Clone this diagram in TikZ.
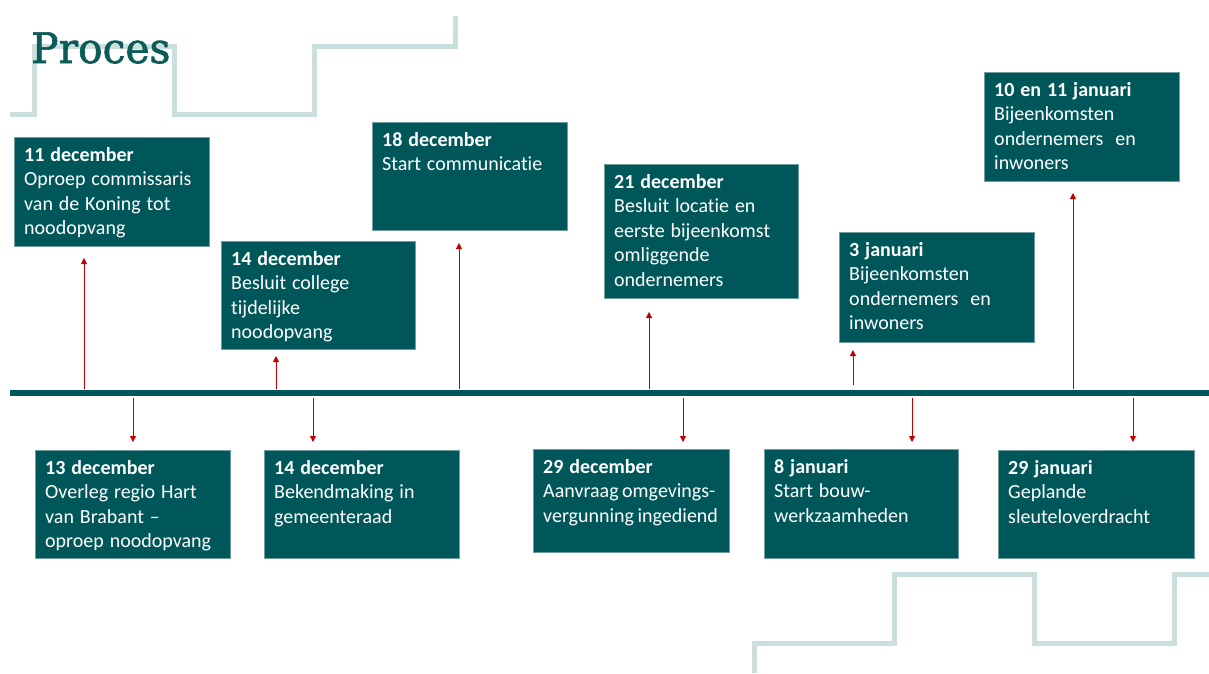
\documentclass[tikz,border=0pt]{standalone}
\usepackage{fontspec}
\setmainfont[Ligatures={NoCommon}, WordSpace=1.3]{Carlito}
\newfontfamily\titlefont[FakeStretch=0.97, FakeBold=1.6]{DejaVu Serif}
\usetikzlibrary{arrows.meta}
\definecolor{tealbox}{HTML}{00575A}
\definecolor{boxedge}{HTML}{6E9E9E}
\definecolor{titlecol}{HTML}{0D5B58}
\definecolor{deco}{HTML}{CCDFDF}
\definecolor{arrred}{HTML}{C00000}
\newcommand\tlbox[7]{%
  \node[box, minimum width=#4pt, minimum height=#5pt] (#1) at (#2,#3) {};
  \node[txt] (#1-t) at (#2+10,#3+10) {\rule{0pt}{14pt}\textbf{#6}\\#7};
}
\begin{document}
\begin{tikzpicture}[x=1pt,y=-1pt,
  box/.style={fill=tealbox, draw=boxedge, line width=0.6pt, inner sep=0pt, anchor=north west},
  txt/.style={anchor=north west, inner sep=0pt, align=left, text=white, font=\fontsize{20}{24.5}\selectfont},
  arr/.style={draw=arrred, line width=0.8pt, -{Triangle[width=6pt,length=6pt]}},
  decoline/.style={draw=deco, line width=5pt, line join=miter},
  timeline/.style={draw=tealbox, line width=6pt}]
\useasboundingbox (0,0) rectangle (1209,673);
% decorative stair lines
\draw[decoline] (10,114) -- (34,114) -- (34,46) -- (174,46) -- (174,114) -- (314,114) -- (314,46) -- (455,46) -- (455,16);
\draw[decoline] (754,673) -- (754,643) -- (894,643) -- (894,574) -- (1034,574) -- (1034,643) -- (1174,643) -- (1174,574) -- (1209,574);
% title
\node[anchor=base west, inner sep=0pt, text=titlecol, font=\titlefont\fontsize{42}{42}\selectfont] (title) at (31,63) {Proces};
% timeline
\coordinate (tlA) at (10,393);
\coordinate (tlB) at (1209,393);
\draw[timeline] (tlA) -- (tlB);
% boxes above
\tlbox{b1}{14}{137}{195}{109}{11 december}{Oproep commissaris\\van de Koning tot\\noodopvang}
\tlbox{b2}{221}{241}{194}{108}{14 december}{Besluit college\\tijdelijke\\noodopvang}
\tlbox{b3}{372}{122}{195}{108}{18 december}{Start communicatie}
\tlbox{b4}{604}{164}{194}{134}{21 december}{Besluit locatie en\\eerste bijeenkomst\\omliggende\\ondernemers}
\tlbox{b5}{839}{232}{195}{110}{3 januari}{Bijeenkomsten\\ondernemers\ \ en\\inwoners}
\tlbox{b6}{984}{72}{195}{109}{10 en 11 januari}{Bijeenkomsten\\ondernemers\ \ en\\inwoners}
% boxes below
\tlbox{c1}{35}{450}{195}{108}{13 december}{Overleg regio Hart\\van Brabant --\\oproep noodopvang}
\tlbox{c2}{264}{450}{195}{108}{14 december}{Bekendmaking in\\gemeenteraad}
\tlbox{c3}{533}{449}{196}{103}{29 december}{\spaceskip=3.5pt Aanvraag omgevings-\\\spaceskip=3.5pt vergunning ingediend}
\tlbox{c4}{764}{449}{194}{109}{8 januari}{Start bouw-\\werkzaamheden}
\tlbox{c5}{998}{450}{196}{108}{29 januari}{Geplande\\sleuteloverdracht}
% arrow end points
\coordinate (u1s) at (84,389);   \coordinate (u1e) at (84,258);
\coordinate (u2s) at (276,389);  \coordinate (u2e) at (276,356);
\coordinate (u3s) at (459,389);  \coordinate (u3e) at (459,243);
\coordinate (u4s) at (649,389);  \coordinate (u4e) at (649,312);
\coordinate (u5s) at (853,385);  \coordinate (u5e) at (853,350);
\coordinate (u6s) at (1073,389); \coordinate (u6e) at (1073,193);
\coordinate (d1s) at (133,398);  \coordinate (d1e) at (133,442);
\coordinate (d2s) at (313,398);  \coordinate (d2e) at (313,442);
\coordinate (d3s) at (683,398);  \coordinate (d3e) at (683,442);
\coordinate (d4s) at (912,398);  \coordinate (d4e) at (912,442);
\coordinate (d5s) at (1133,398); \coordinate (d5e) at (1133,442);
\foreach \a in {u1,u2,u3,u4,u5,u6,d1,d2,d3,d4,d5}
  \draw[arr] (\a s) -- (\a e);
\end{tikzpicture}
\end{document}
